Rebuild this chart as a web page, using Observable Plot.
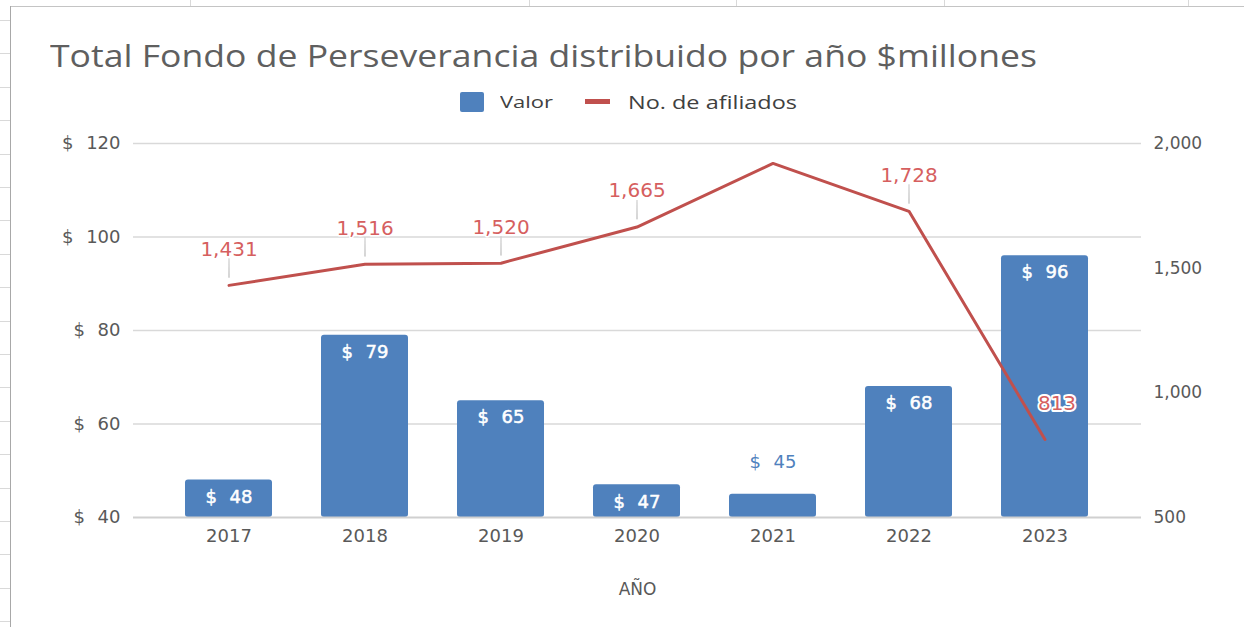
<!DOCTYPE html>
<html>
<head>
<meta charset="utf-8">
<script src="https://cdn.jsdelivr.net/npm/d3@7"></script>
<script src="https://cdn.jsdelivr.net/npm/@observablehq/plot@0.6"></script>
<style>
  html, body { margin: 0; padding: 0; background: #fff; }
  #wrap { position: relative; width: 1244px; height: 627px; overflow: hidden; }
  #chart { position: absolute; left: 0; top: 0; }
  .deco { position: absolute; background: #bdbdbd; }
  #title { position: absolute; left: 50px; top: 36px; font-family: "Open Sans", sans-serif; font-size: 31px; color: #5f5f5f; white-space: nowrap; line-height: 38px; transform-origin: 0 50%; }
  .lg { position: absolute; font-family: "Open Sans", sans-serif; color: #404040; white-space: nowrap; transform-origin: 0 50%; }
</style>
</head>
<body>
<div id="wrap">
  <div id="chart"></div>
  <div id="title">Total Fondo de Perseverancia distribuido por año $millones</div>
  <div class="deco" style="left:460px; top:92px; width:24px; height:20px; background:#4F81BD; border-radius:2px;"></div>
  <div class="lg" id="lg1" style="left:500px; top:91px; font-size:16px; line-height:22px;">Valor</div>
  <div class="deco" style="left:585px; top:99px; width:25px; height:5px; background:#C0504D;"></div>
  <div class="lg" id="lg2" style="left:628px; top:89px; font-size:19px; line-height:26px;">No. de afiliados</div>
</div>
<script>
// ---- data ----
const years = ["2017", "2018", "2019", "2020", "2021", "2022", "2023"];
const valor = [48, 79, 65, 47, 45, 68, 96];              // $ millones (left axis)
const afiliados = [1431, 1516, 1520, 1665, 1920, 1728, 813]; // No. de afiliados (right axis)
const afiliadosVisible = [true, true, true, true, false, true, true];
const leftTicks = [40, 60, 80, 100, 120];
const rightTicks = [500, 1000, 1500, 2000];
const xLabel = "AÑO";

// ---- build table ----
const data = years.map((y, i) => ({year: y, valor: valor[i], af: afiliados[i], show: afiliadosVisible[i], last: i === years.length - 1}));

const L0 = leftTicks[0], L1 = leftTicks[leftTicks.length - 1];
const R0 = rightTicks[0], R1 = rightTicks[rightTicks.length - 1];
const toLeft = v => L0 + (v - R0) / (R1 - R0) * (L1 - L0);
const fromLeft = d => Math.round(R0 + (d - L0) / (L1 - L0) * (R1 - R0));

const gray = "#595959";
const blue = "#4F81BD";
const red = "#C0504D";
const redLabel = "#D65F5F";
const numFont = "DejaVu Sans, Verdana, sans-serif";
const money = d => "$\u2002\u2009" + d;

const inside = data.filter(d => d.valor - L0 >= 6);
const outside = data.filter(d => d.valor - L0 < 6);

const chart = Plot.plot({
  width: 1244,
  height: 627,
  marginLeft: 133,
  marginRight: 103,
  marginTop: 143,
  marginBottom: 110,
  style: {fontFamily: numFont, color: gray, background: "transparent"},
  x: {domain: years, paddingInner: 0.36, paddingOuter: 0.38},
  y: {domain: [L0, L1]},
  marks: [
    Plot.ruleY(leftTicks.slice(1), {stroke: "#d9d9d9", strokeWidth: 1.5}),
    Plot.barY(data, {x: "year", y1: L0, y2: "valor", fill: blue, rx: 3}),
    Plot.ruleY([L0], {stroke: "#d0d0d0", strokeWidth: 2}),
    Plot.text(inside, {x: "year", y: "valor", text: d => money(d.valor), dy: 17, fill: "white", stroke: "white", strokeWidth: 0.5, fontSize: 18, fontFamily: numFont}),
    Plot.text(outside, {x: "year", y: "valor", text: d => money(d.valor), dy: -32, fill: blue, fontSize: 18, fontFamily: numFont}),
    Plot.lineY(data, {x: "year", y: d => toLeft(d.af), stroke: red, strokeWidth: 3}),
    Plot.vector(data.filter(d => d.show && !d.last), {x: "year", y: d => toLeft(d.af), length: 19, rotate: 0, anchor: "start", shape: "spike", r: 0.5, dy: -8, stroke: "#d0d0d0", fill: "#d0d0d0", strokeWidth: 0.8}),
    Plot.text(data.filter(d => d.show && !d.last), {x: "year", y: d => toLeft(d.af), text: d => d3.format(",")(d.af), dy: -36, fill: redLabel, fontSize: 20, fontFamily: numFont, stroke: "white", strokeWidth: 3}),
    Plot.text(data.filter(d => d.show && d.last), {x: "year", y: d => toLeft(d.af), text: d => d3.format(",")(d.af), dy: -36, dx: 12, fill: redLabel, fontSize: 20, fontFamily: numFont, stroke: "white", strokeWidth: 4}),
    Plot.axisX({tickSize: 0, tickPadding: 12, fontSize: 18, label: null, fill: gray}),
    Plot.text([xLabel], {frameAnchor: "bottom", dy: 77, fontSize: 17, fill: gray, fontFamily: numFont}),
    Plot.axisY(leftTicks, {anchor: "left", tickSize: 0, tickPadding: 13, tickFormat: money, fontSize: 18, label: null, fill: gray}),
    Plot.axisY(rightTicks.map(toLeft), {anchor: "right", tickSize: 0, tickPadding: 12, tickFormat: d => d3.format(",")(fromLeft(d)), fontSize: 17, label: null, fill: gray})
  ]
});
document.getElementById("chart").appendChild(chart);

// stretch title and legend text horizontally to the reference widths
function fit(id, target) {
  const el = document.getElementById(id);
  const w = el.getBoundingClientRect().width;
  el.style.transform = `scaleX(${target / w})`;
}
fit("title", 987);
fit("lg2", 169);
fit("lg1", 53);

// spreadsheet background decoration (frame of the pasted chart)
const wrap = document.getElementById("wrap");
function deco(l, t, w, h, c) {
  const d = document.createElement("div");
  d.className = "deco";
  d.style.cssText = `left:${l}px;top:${t}px;width:${w}px;height:${h}px;background:${c};`;
  wrap.appendChild(d);
}
deco(10, 6, 1234, 1, "#c4c4c4");
deco(10, 6, 1, 621, "#a8a8a8");
[190, 529, 736, 944, 1188].forEach(x => deco(x, 0, 1, 6, "#d9d9d9"));
for (let y = 20; y < 627; y += 33.4) deco(0, Math.round(y), 10, 1, "#d9d9d9");
</script>
</body>
</html>
